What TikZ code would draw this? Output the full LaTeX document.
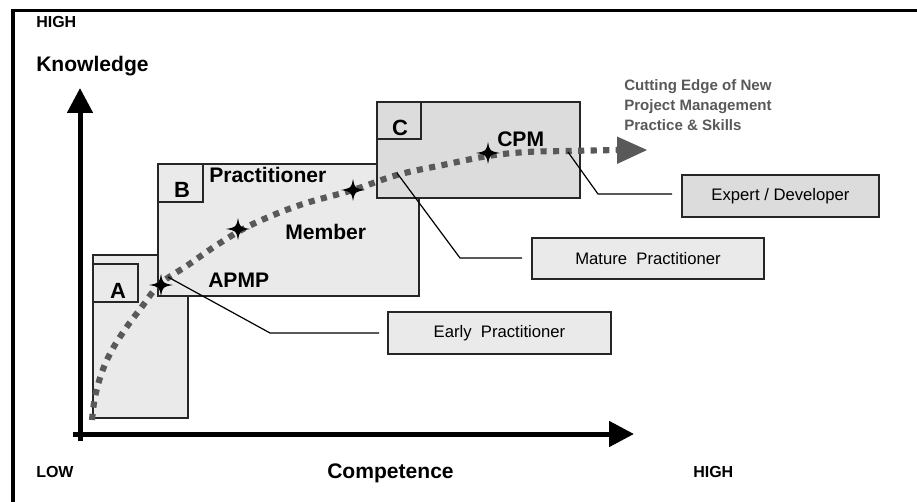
\documentclass[tikz,border=0pt]{standalone}
\usepackage{fontspec}
\setmainfont{Liberation Sans}
\usetikzlibrary{arrows.meta}
\definecolor{boxlight}{HTML}{EAEAEA}
\definecolor{boxdark}{HTML}{DCDCDC}
\definecolor{trail}{HTML}{595959}
\begin{document}
\begin{tikzpicture}[x=0.75pt,y=-0.75pt,
  stagebox/.style={draw=black!85, line width=1.4pt, anchor=north west, inner sep=0pt},
  tagbox/.style={draw=black!85, line width=1.4pt, anchor=north west, inner sep=0pt, fill=boxlight},
  callout/.style={draw=black!85, line width=1.4pt, inner sep=0pt, font=\fontsize{12.5pt}{14pt}\selectfont},
  lead/.style={draw=black, line width=0.9pt},
  bigtag/.style={font=\fontsize{16.5pt}{18pt}\selectfont\bfseries, anchor=base, inner sep=0pt},
  stagelabel/.style={font=\fontsize{15.8pt}{18pt}\selectfont\bfseries, anchor=base west, inner sep=0pt},
  axislabel/.style={font=\fontsize{15.8pt}{18pt}\selectfont\bfseries, anchor=base west, inner sep=0pt},
  endlabel/.style={font=\fontsize{12pt}{14pt}\selectfont\bfseries, anchor=base west, inner sep=0pt},
  axis/.style={line width=3.75pt, -{Triangle[length=18.75pt,width=18.75pt]}},
  spark/.pic={\fill[black] (0,-11) .. controls (1.8,-1.8) .. (12,0) .. controls (1.8,1.8) .. (0,11)
      .. controls (-1.8,1.8) .. (-12,0) .. controls (-1.8,-1.8) .. cycle;}
]
\useasboundingbox (0,0) rectangle (917,502);

% outer frame (top and left edges)
\draw[line width=2.3pt] (13,502) |- (917,10.5);

% axes
\coordinate (ybot) at (80,441);
\coordinate (ytop) at (80,88);
\coordinate (xleft) at (73,434);
\coordinate (xright) at (634,434);
\draw[axis] (ybot) -- (ytop);
\draw[axis] (xleft) -- (xright);

% axis texts
\node[endlabel] (hightop) at (36,28) {HIGH};
\node[axislabel] (know) at (36,72) {Knowledge};
\node[endlabel] (low) at (36,477) {LOW};
\node[axislabel] (comp) at (327,478) {Competence};
\node[endlabel] (highright) at (693,477) {HIGH};

% stage boxes
\node[stagebox, fill=boxlight, minimum width=95*0.75pt, minimum height=163*0.75pt] (boxA) at (92,254) {};
\node[tagbox, minimum width=45*0.75pt, minimum height=38*0.75pt] (tagA) at (92,263) {};
\node[stagebox, fill=boxlight, minimum width=261*0.75pt, minimum height=132*0.75pt] (boxB) at (157,163) {};
\node[tagbox, minimum width=45*0.75pt, minimum height=38*0.75pt] (tagB) at (157,163) {};
\node[stagebox, fill=boxdark, minimum width=203*0.75pt, minimum height=96*0.75pt] (boxC) at (376,101) {};
\node[tagbox, fill=boxdark, minimum width=44*0.75pt, minimum height=37*0.75pt] (tagC) at (376,101) {};

\node[bigtag] (letA) at (118,299) {A};
\node[bigtag] (letB) at (182,198) {B};
\node[bigtag] (letC) at (400,136) {C};

\node[stagelabel] (practitioner) at (209,183) {Practitioner};
\node[stagelabel] (member) at (285,240) {Member};
\node[stagelabel] (apmp) at (208,287) {APMP};
\node[stagelabel] (cpm) at (497,147) {CPM};

% growth trail
\draw[trail, line width=4.6pt, dash pattern=on 4.6pt off 4.8pt]
  plot[smooth, tension=0.6] coordinates {(92,420) (95,397) (102,372) (112,350) (126,328) (141,308)
    (160,284) (188,265) (220,243) (253,224) (300,205) (353,190) (397,175) (443,165)
    (488,156) (527,152) (567,151) (617,150)};
\fill[trail] (617,136.5) -- (647,150) -- (617,164) -- cycle;

\node[font=\fontsize{11.3pt}{15pt}\selectfont\bfseries, text=trail, anchor=north west, align=left, inner sep=0pt] (edge) at (624,79)
  {Cutting Edge of New\\Project Management\\Practice \& Skills};

% milestones on the trail
\pic at (161,285) {spark};
\pic at (238,229) {spark};
\pic at (353,190) {spark};
\pic at (488,153) {spark};

% callouts
\node[callout, fill=boxdark, minimum width=197*0.75pt, minimum height=42*0.75pt] (expert) at (780.5,196) {Expert / Developer};
\node[callout, fill=boxlight, minimum width=232*0.75pt, minimum height=41*0.75pt] (mature) at (648,258.5) {Mature\ \ Practitioner};
\node[callout, fill=boxlight, minimum width=223*0.75pt, minimum height=42*0.75pt] (early) at (499.5,333) {Early\ \ Practitioner};

% leader lines
\coordinate (eS) at (168,277);
\coordinate (eK) at (270,333);
\coordinate (eE) at (379,333);
\coordinate (mS) at (397,173);
\coordinate (mK) at (460,258);
\coordinate (mE) at (522,258);
\coordinate (xS) at (568,152);
\coordinate (xK) at (598,194);
\coordinate (xE) at (672,194);
\draw[lead] (eS) -- (eK) -- (eE);
\draw[lead] (mS) -- (mK) -- (mE);
\draw[lead] (xS) -- (xK) -- (xE);
\end{tikzpicture}
\end{document}
